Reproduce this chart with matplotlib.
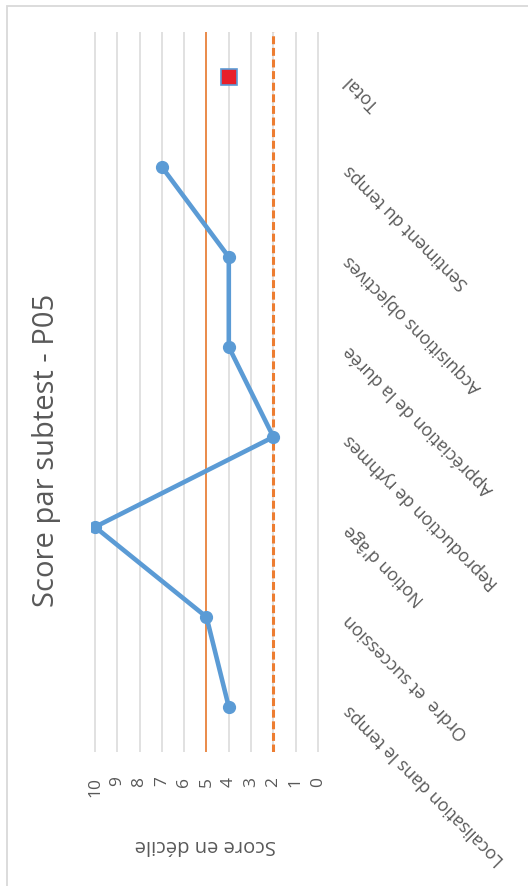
import matplotlib
matplotlib.use("Agg")
import matplotlib.pyplot as plt
from matplotlib.patches import Rectangle

# Chart data
subtests = [
    "Localisation dans le temps",
    "Ordre  et succession",
    "Notion d'âge",
    "Reproduction de rythmes",
    "Appréciation de la durée",
    "Acquisitions objectives",
    "Sentiment du temps",
    "Total",
]
subtest_scores = [4, 5, 10, 2, 4, 4, 7]
total_score = [4]
mean_level = 5
threshold_level = 2
score_ticks = list(range(0, 11))
title = "Score par subtest - P05"
score_label = "Score en décile"

plt.rcParams['font.family'] = ['Open Sans', 'DejaVu Sans']

W, H = 528, 887
fig = plt.figure(figsize=(W / 100, H / 100), dpi=100)

# axes box in pixels (score axis runs right-to-left, categories bottom-to-top)
pad_units = 0.2
px_per_unit = (318 - 95) / 10
left_px = 95 - pad_units * px_per_unit
right_px = 318 + pad_units * px_per_unit
top_px, bottom_px = 33, 753
ax = fig.add_axes([left_px / W, 1 - bottom_px / H,
                   (right_px - left_px) / W, (bottom_px - top_px) / H])

positions = list(range(len(subtests)))
ax.set_xlim(10 + pad_units, 0 - pad_units)
ax.set_ylim(-0.5, len(subtests) - 0.5)

for s in ax.spines.values():
    s.set_visible(False)

ax.set_xticks(score_ticks)
ax.set_xticklabels([str(t) for t in score_ticks], rotation=90,
                   va='top', ha='center', fontsize=12.5, color='#595959')
ax.tick_params(axis='x', length=0, pad=17)
ax.set_yticks([])
ax.grid(axis='x', color='#D9D9D9', lw=1.1)
ax.set_axisbelow(True)

# reference levels
ax.axvline(mean_level, color='#ED7D31', lw=1.2, zorder=2)
ax.axvline(threshold_level, color='#ED7D31', lw=2.2, ls=(0, (2.6, 1.2)), zorder=2)

# subtest scores
ax.plot(subtest_scores, positions[:len(subtest_scores)], color='#5B9BD5',
        lw=3.3, marker='o', ms=8.5, zorder=3, solid_capstyle='round')
# total score
ax.plot(total_score, [positions[-1]], ls='none', marker='s', ms=12,
        mfc='#E8202A', mec='#5B9BD5', mew=1.2, zorder=4)

# category labels
for name, pos in zip(subtests, positions):
    ax.text(-1.3, pos, name, rotation=135, rotation_mode='anchor',
            ha='right', va='center', fontsize=12.8, color='#595959')

# axis label and title
fig.text(205 / W, 1 - 845 / H, score_label, rotation=180, ha='center',
         va='center', fontsize=14.5, color='#595959')
fig.text(47 / W, 1 - 450 / H, title, rotation=90, ha='center', va='center',
         fontsize=21, color='#595959')

# chart frame
fig.patches.append(Rectangle((7 / W, -1), 2, 1 - 7 / H + 1, transform=fig.transFigure,
                             fill=False, ec='#D9D9D9', lw=1.3))

fig.savefig("out.png", dpi=100)
